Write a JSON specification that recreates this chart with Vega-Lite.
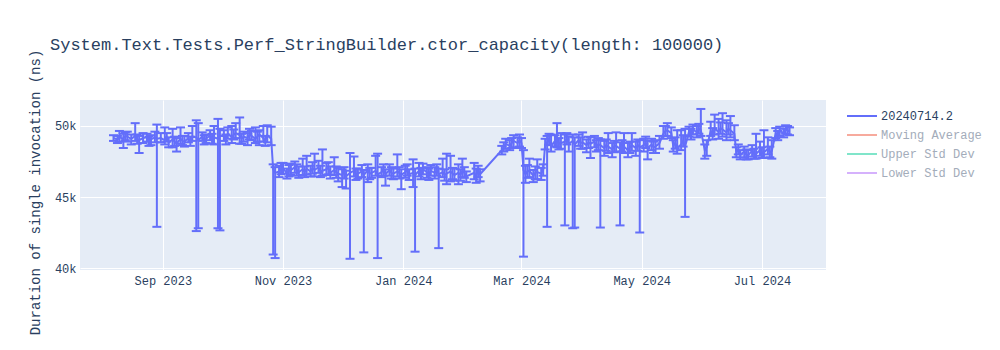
{
  "$schema": "https://vega.github.io/schema/vega-lite/v6.json",
  "width": 746,
  "height": 170,
  "autosize": "none",
  "padding": {"left": 80, "top": 100, "right": 174, "bottom": 80},
  "background": "white",
  "config": {
    "view": {"fill": "#e5ecf6", "stroke": null},
    "font": "Liberation Mono",
    "axis": {
      "domain": false, "ticks": false, "gridColor": "white", "gridWidth": 1, "gridOpacity": 1,
      "labelColor": "#2a3f5f", "labelFont": "Liberation Mono", "labelFontSize": 12,
      "titleColor": "#2a3f5f", "titleFont": "Liberation Mono", "titleFontSize": 14, "titleFontWeight": "normal"
    }
  },
  "title": {
    "text": "System.Text.Tests.Perf_StringBuilder.ctor_capacity(length: 100000)",
    "anchor": "start", "frame": "group", "dx": -30, "offset": -5,
    "font": "Liberation Mono", "fontSize": 17, "fontWeight": "normal", "color": "#2a3f5f"
  },
  "data": {"values": [
    {"d":"2023-08-07","v":49150,"lo":48950,"hi":49350},
    {"d":"2023-08-09","v":49050,"lo":48800,"hi":49300},
    {"d":"2023-08-10","v":49200,"lo":48900,"hi":49650},
    {"d":"2023-08-12","v":49100,"lo":48450,"hi":49450},
    {"d":"2023-08-13","v":49300,"lo":49000,"hi":49550},
    {"d":"2023-08-14","v":49250,"lo":48900,"hi":49600},
    {"d":"2023-08-16","v":49100,"lo":48700,"hi":49400},
    {"d":"2023-08-18","v":49300,"lo":48950,"hi":50200},
    {"d":"2023-08-19","v":49050,"lo":48750,"hi":49400},
    {"d":"2023-08-20","v":49000,"lo":48100,"hi":49300},
    {"d":"2023-08-22","v":49150,"lo":48800,"hi":49500},
    {"d":"2023-08-24","v":49200,"lo":48900,"hi":49450},
    {"d":"2023-08-25","v":48950,"lo":48600,"hi":49250},
    {"d":"2023-08-26","v":49050,"lo":48650,"hi":49350},
    {"d":"2023-08-28","v":49200,"lo":48850,"hi":49600},
    {"d":"2023-08-29","v":49100,"lo":42900,"hi":50100},
    {"d":"2023-08-31","v":49150,"lo":48850,"hi":49500},
    {"d":"2023-09-02","v":49000,"lo":48700,"hi":49900},
    {"d":"2023-09-03","v":49200,"lo":48900,"hi":49500},
    {"d":"2023-09-04","v":48850,"lo":48500,"hi":49200},
    {"d":"2023-09-06","v":49050,"lo":48500,"hi":49800},
    {"d":"2023-09-07","v":48900,"lo":48600,"hi":49250},
    {"d":"2023-09-08","v":48750,"lo":48200,"hi":49150},
    {"d":"2023-09-10","v":49100,"lo":48750,"hi":49900},
    {"d":"2023-09-11","v":48950,"lo":48650,"hi":49300},
    {"d":"2023-09-12","v":48900,"lo":48550,"hi":49300},
    {"d":"2023-09-14","v":49150,"lo":48850,"hi":49500},
    {"d":"2023-09-15","v":48900,"lo":48600,"hi":49250},
    {"d":"2023-09-16","v":49250,"lo":48950,"hi":50000},
    {"d":"2023-09-18","v":49200,"lo":42600,"hi":50400},
    {"d":"2023-09-19","v":49000,"lo":42800,"hi":50200},
    {"d":"2023-09-21","v":49250,"lo":48950,"hi":49550},
    {"d":"2023-09-22","v":49000,"lo":48700,"hi":49350},
    {"d":"2023-09-23","v":49100,"lo":48800,"hi":49400},
    {"d":"2023-09-25","v":49350,"lo":49000,"hi":49700},
    {"d":"2023-09-26","v":49100,"lo":48750,"hi":49450},
    {"d":"2023-09-27","v":49200,"lo":48700,"hi":50000},
    {"d":"2023-09-29","v":49100,"lo":42800,"hi":50500},
    {"d":"2023-09-30","v":49300,"lo":42650,"hi":49800},
    {"d":"2023-10-02","v":49300,"lo":48950,"hi":49700},
    {"d":"2023-10-03","v":49050,"lo":48700,"hi":49400},
    {"d":"2023-10-04","v":49450,"lo":49100,"hi":49900},
    {"d":"2023-10-06","v":49200,"lo":48800,"hi":50000},
    {"d":"2023-10-07","v":49400,"lo":49050,"hi":49750},
    {"d":"2023-10-08","v":49500,"lo":49150,"hi":50200},
    {"d":"2023-10-10","v":49350,"lo":48750,"hi":50600},
    {"d":"2023-10-11","v":49100,"lo":48750,"hi":49450},
    {"d":"2023-10-12","v":49250,"lo":48900,"hi":49600},
    {"d":"2023-10-14","v":49150,"lo":48650,"hi":49500},
    {"d":"2023-10-15","v":49400,"lo":49050,"hi":49800},
    {"d":"2023-10-16","v":49300,"lo":49000,"hi":49650},
    {"d":"2023-10-18","v":49100,"lo":48800,"hi":49900},
    {"d":"2023-10-19","v":49250,"lo":48900,"hi":49600},
    {"d":"2023-10-20","v":49400,"lo":48650,"hi":49700},
    {"d":"2023-10-22","v":49150,"lo":48900,"hi":50000},
    {"d":"2023-10-23","v":48950,"lo":48600,"hi":49300},
    {"d":"2023-10-24","v":49350,"lo":48850,"hi":50050},
    {"d":"2023-10-26","v":49100,"lo":48650,"hi":49950},
    {"d":"2023-10-27","v":46950,"lo":40950,"hi":47300},
    {"d":"2023-10-28","v":46700,"lo":40700,"hi":47100},
    {"d":"2023-10-30","v":46800,"lo":46400,"hi":47200},
    {"d":"2023-10-31","v":47000,"lo":46600,"hi":47400},
    {"d":"2023-11-01","v":47050,"lo":46650,"hi":47400},
    {"d":"2023-11-03","v":46650,"lo":46300,"hi":47000},
    {"d":"2023-11-04","v":46850,"lo":46450,"hi":47250},
    {"d":"2023-11-05","v":46900,"lo":46550,"hi":47350},
    {"d":"2023-11-07","v":47100,"lo":46700,"hi":47500},
    {"d":"2023-11-08","v":46900,"lo":46500,"hi":47300},
    {"d":"2023-11-09","v":46750,"lo":46350,"hi":47150},
    {"d":"2023-11-11","v":46950,"lo":46550,"hi":47700},
    {"d":"2023-11-12","v":46750,"lo":46400,"hi":47150},
    {"d":"2023-11-13","v":47000,"lo":46600,"hi":47900},
    {"d":"2023-11-15","v":46800,"lo":46450,"hi":47200},
    {"d":"2023-11-16","v":47050,"lo":46650,"hi":47450},
    {"d":"2023-11-17","v":46900,"lo":46450,"hi":48050},
    {"d":"2023-11-19","v":47100,"lo":46700,"hi":47550},
    {"d":"2023-11-20","v":46800,"lo":46400,"hi":47200},
    {"d":"2023-11-21","v":46850,"lo":46500,"hi":48350},
    {"d":"2023-11-23","v":46950,"lo":46550,"hi":47400},
    {"d":"2023-11-24","v":47050,"lo":46600,"hi":47450},
    {"d":"2023-11-25","v":46700,"lo":46300,"hi":47150},
    {"d":"2023-11-27","v":46900,"lo":46550,"hi":47800},
    {"d":"2023-11-28","v":46750,"lo":46350,"hi":47150},
    {"d":"2023-11-29","v":46650,"lo":46100,"hi":47050},
    {"d":"2023-12-01","v":46550,"lo":45700,"hi":46950},
    {"d":"2023-12-02","v":46750,"lo":46300,"hi":47100},
    {"d":"2023-12-03","v":46450,"lo":45600,"hi":46850},
    {"d":"2023-12-05","v":46700,"lo":40650,"hi":48100},
    {"d":"2023-12-07","v":46850,"lo":46450,"hi":47850},
    {"d":"2023-12-08","v":46600,"lo":46200,"hi":47000},
    {"d":"2023-12-09","v":46650,"lo":46300,"hi":47000},
    {"d":"2023-12-11","v":46800,"lo":46400,"hi":47250},
    {"d":"2023-12-12","v":46550,"lo":41100,"hi":46900},
    {"d":"2023-12-14","v":46900,"lo":46050,"hi":47300},
    {"d":"2023-12-15","v":46650,"lo":46250,"hi":47050},
    {"d":"2023-12-16","v":46700,"lo":46350,"hi":47050},
    {"d":"2023-12-18","v":46850,"lo":46500,"hi":47900},
    {"d":"2023-12-19","v":46600,"lo":40700,"hi":48050},
    {"d":"2023-12-21","v":46750,"lo":46400,"hi":47100},
    {"d":"2023-12-22","v":46900,"lo":46500,"hi":47300},
    {"d":"2023-12-23","v":46600,"lo":45800,"hi":46950},
    {"d":"2023-12-25","v":46900,"lo":46500,"hi":47300},
    {"d":"2023-12-26","v":46700,"lo":46300,"hi":47100},
    {"d":"2023-12-27","v":46650,"lo":46250,"hi":47000},
    {"d":"2023-12-29","v":46800,"lo":46450,"hi":48000},
    {"d":"2023-12-30","v":46700,"lo":46300,"hi":47100},
    {"d":"2023-12-31","v":46550,"lo":45550,"hi":46950},
    {"d":"2024-01-02","v":46750,"lo":46350,"hi":47200},
    {"d":"2024-01-03","v":46900,"lo":46500,"hi":47300},
    {"d":"2024-01-04","v":46600,"lo":46200,"hi":46950},
    {"d":"2024-01-06","v":46700,"lo":45700,"hi":47650},
    {"d":"2024-01-07","v":46550,"lo":41150,"hi":47000},
    {"d":"2024-01-09","v":46850,"lo":46450,"hi":47400},
    {"d":"2024-01-10","v":46650,"lo":46250,"hi":47050},
    {"d":"2024-01-11","v":46950,"lo":46600,"hi":47350},
    {"d":"2024-01-13","v":46750,"lo":46350,"hi":47100},
    {"d":"2024-01-14","v":46600,"lo":46200,"hi":47000},
    {"d":"2024-01-15","v":46850,"lo":46500,"hi":47250},
    {"d":"2024-01-17","v":46700,"lo":46300,"hi":47100},
    {"d":"2024-01-18","v":46900,"lo":46500,"hi":47300},
    {"d":"2024-01-19","v":46600,"lo":41400,"hi":47000},
    {"d":"2024-01-21","v":46750,"lo":46400,"hi":47700},
    {"d":"2024-01-22","v":46550,"lo":46150,"hi":46950},
    {"d":"2024-01-23","v":46650,"lo":45900,"hi":48050},
    {"d":"2024-01-25","v":46800,"lo":46100,"hi":47900},
    {"d":"2024-01-26","v":46650,"lo":46250,"hi":47050},
    {"d":"2024-01-27","v":46550,"lo":46150,"hi":47000},
    {"d":"2024-01-29","v":46700,"lo":45900,"hi":47300},
    {"d":"2024-01-30","v":46550,"lo":46150,"hi":46950},
    {"d":"2024-01-31","v":46850,"lo":46400,"hi":47700},
    {"d":"2024-02-01","v":46700,"lo":46350,"hi":47100},
    {"d":"2024-02-02","v":46450,"lo":46050,"hi":46800},
    {"d":"2024-02-06","v":46700,"lo":46250,"hi":47400},
    {"d":"2024-02-07","v":46500,"lo":46000,"hi":47000},
    {"d":"2024-02-08","v":46850,"lo":46400,"hi":47200},
    {"d":"2024-02-09","v":46600,"lo":46100,"hi":46950},
    {"d":"2024-02-20","v":48300,"lo":48000,"hi":48600},
    {"d":"2024-02-21","v":48500,"lo":48200,"hi":48850},
    {"d":"2024-02-22","v":48750,"lo":48400,"hi":49100},
    {"d":"2024-02-24","v":48600,"lo":48300,"hi":49000},
    {"d":"2024-02-25","v":48800,"lo":48450,"hi":49150},
    {"d":"2024-02-26","v":48950,"lo":48500,"hi":49350},
    {"d":"2024-02-28","v":48800,"lo":48450,"hi":49200},
    {"d":"2024-02-29","v":49000,"lo":48550,"hi":49400},
    {"d":"2024-03-01","v":48800,"lo":48450,"hi":49150},
    {"d":"2024-03-02","v":46900,"lo":40800,"hi":48300},
    {"d":"2024-03-03","v":46600,"lo":46000,"hi":47200},
    {"d":"2024-03-04","v":46800,"lo":46350,"hi":47250},
    {"d":"2024-03-05","v":46850,"lo":46400,"hi":47700},
    {"d":"2024-03-07","v":46500,"lo":46050,"hi":46900},
    {"d":"2024-03-08","v":46700,"lo":46250,"hi":47150},
    {"d":"2024-03-09","v":46750,"lo":46250,"hi":47650},
    {"d":"2024-03-11","v":46650,"lo":46200,"hi":47050},
    {"d":"2024-03-12","v":46900,"lo":46500,"hi":47300},
    {"d":"2024-03-13","v":48700,"lo":48350,"hi":49100},
    {"d":"2024-03-14","v":48850,"lo":42900,"hi":49300},
    {"d":"2024-03-15","v":49050,"lo":48650,"hi":49450},
    {"d":"2024-03-16","v":48600,"lo":48200,"hi":49400},
    {"d":"2024-03-18","v":48950,"lo":48550,"hi":49350},
    {"d":"2024-03-19","v":49050,"lo":48500,"hi":50200},
    {"d":"2024-03-20","v":48750,"lo":48350,"hi":49150},
    {"d":"2024-03-21","v":48800,"lo":48400,"hi":49500},
    {"d":"2024-03-23","v":48900,"lo":43000,"hi":49400},
    {"d":"2024-03-24","v":49100,"lo":48700,"hi":49500},
    {"d":"2024-03-25","v":48750,"lo":48200,"hi":49250},
    {"d":"2024-03-27","v":48950,"lo":42800,"hi":49400},
    {"d":"2024-03-28","v":48700,"lo":42850,"hi":49200},
    {"d":"2024-03-30","v":49000,"lo":48600,"hi":49400},
    {"d":"2024-03-31","v":48800,"lo":48400,"hi":49200},
    {"d":"2024-04-01","v":48850,"lo":48400,"hi":49550},
    {"d":"2024-04-03","v":48650,"lo":48150,"hi":49050},
    {"d":"2024-04-04","v":48850,"lo":48450,"hi":49250},
    {"d":"2024-04-05","v":48750,"lo":47750,"hi":49200},
    {"d":"2024-04-07","v":48900,"lo":48500,"hi":49300},
    {"d":"2024-04-08","v":48600,"lo":48200,"hi":49000},
    {"d":"2024-04-09","v":48700,"lo":48300,"hi":49150},
    {"d":"2024-04-10","v":48650,"lo":42850,"hi":49050},
    {"d":"2024-04-12","v":48450,"lo":47900,"hi":48950},
    {"d":"2024-04-13","v":48650,"lo":48250,"hi":49050},
    {"d":"2024-04-14","v":48550,"lo":48100,"hi":49500},
    {"d":"2024-04-16","v":48350,"lo":47800,"hi":48800},
    {"d":"2024-04-17","v":48550,"lo":48150,"hi":48950},
    {"d":"2024-04-18","v":48600,"lo":48200,"hi":49550},
    {"d":"2024-04-20","v":48400,"lo":43000,"hi":48850},
    {"d":"2024-04-21","v":48600,"lo":48200,"hi":49000},
    {"d":"2024-04-22","v":48550,"lo":48100,"hi":49500},
    {"d":"2024-04-24","v":48300,"lo":47800,"hi":48800},
    {"d":"2024-04-25","v":48500,"lo":48100,"hi":48900},
    {"d":"2024-04-26","v":48650,"lo":48250,"hi":49500},
    {"d":"2024-04-28","v":48450,"lo":47900,"hi":48900},
    {"d":"2024-04-29","v":48650,"lo":48250,"hi":49050},
    {"d":"2024-04-30","v":48500,"lo":42500,"hi":49000},
    {"d":"2024-05-02","v":48650,"lo":48200,"hi":49100},
    {"d":"2024-05-03","v":48850,"lo":48450,"hi":49250},
    {"d":"2024-05-04","v":48450,"lo":47650,"hi":48950},
    {"d":"2024-05-06","v":48700,"lo":48300,"hi":49100},
    {"d":"2024-05-07","v":48500,"lo":48100,"hi":48900},
    {"d":"2024-05-08","v":48550,"lo":48100,"hi":49000},
    {"d":"2024-05-10","v":48800,"lo":48400,"hi":49300},
    {"d":"2024-05-12","v":49450,"lo":49100,"hi":50000},
    {"d":"2024-05-13","v":49650,"lo":49300,"hi":50000},
    {"d":"2024-05-14","v":49700,"lo":49300,"hi":50200},
    {"d":"2024-05-16","v":49500,"lo":49150,"hi":49900},
    {"d":"2024-05-17","v":48600,"lo":48200,"hi":49000},
    {"d":"2024-05-18","v":48800,"lo":48400,"hi":49200},
    {"d":"2024-05-19","v":48450,"lo":48050,"hi":49700},
    {"d":"2024-05-21","v":48700,"lo":48300,"hi":49700},
    {"d":"2024-05-22","v":48950,"lo":48550,"hi":49350},
    {"d":"2024-05-23","v":48550,"lo":43600,"hi":49800},
    {"d":"2024-05-25","v":49600,"lo":49250,"hi":49950},
    {"d":"2024-05-26","v":49400,"lo":49050,"hi":49800},
    {"d":"2024-05-27","v":49750,"lo":49400,"hi":50100},
    {"d":"2024-05-29","v":49550,"lo":49200,"hi":50000},
    {"d":"2024-05-30","v":49800,"lo":49450,"hi":50150},
    {"d":"2024-05-31","v":49700,"lo":49300,"hi":51200},
    {"d":"2024-06-02","v":48300,"lo":47700,"hi":48700},
    {"d":"2024-06-03","v":48500,"lo":47900,"hi":49000},
    {"d":"2024-06-05","v":49650,"lo":49300,"hi":50300},
    {"d":"2024-06-06","v":49450,"lo":49050,"hi":49850},
    {"d":"2024-06-07","v":49800,"lo":49400,"hi":50800},
    {"d":"2024-06-09","v":49600,"lo":49100,"hi":50500},
    {"d":"2024-06-10","v":49850,"lo":49450,"hi":50250},
    {"d":"2024-06-11","v":49750,"lo":49250,"hi":50900},
    {"d":"2024-06-13","v":49550,"lo":49000,"hi":50400},
    {"d":"2024-06-14","v":49800,"lo":49400,"hi":50200},
    {"d":"2024-06-15","v":49700,"lo":49200,"hi":50700},
    {"d":"2024-06-17","v":49450,"lo":49000,"hi":50050},
    {"d":"2024-06-18","v":48150,"lo":47800,"hi":48500},
    {"d":"2024-06-19","v":48350,"lo":48000,"hi":48700},
    {"d":"2024-06-20","v":47950,"lo":47650,"hi":48300},
    {"d":"2024-06-22","v":48200,"lo":47800,"hi":48550},
    {"d":"2024-06-23","v":48000,"lo":47650,"hi":48350},
    {"d":"2024-06-24","v":47950,"lo":47650,"hi":48300},
    {"d":"2024-06-26","v":48250,"lo":47850,"hi":48650},
    {"d":"2024-06-27","v":48050,"lo":47700,"hi":48400},
    {"d":"2024-06-28","v":48050,"lo":47700,"hi":49450},
    {"d":"2024-06-30","v":48300,"lo":47900,"hi":48900},
    {"d":"2024-07-01","v":48100,"lo":47750,"hi":48500},
    {"d":"2024-07-02","v":48150,"lo":47750,"hi":49700},
    {"d":"2024-07-04","v":48400,"lo":48000,"hi":49200},
    {"d":"2024-07-05","v":48150,"lo":47800,"hi":48550},
    {"d":"2024-07-06","v":48250,"lo":47700,"hi":49000},
    {"d":"2024-07-08","v":49500,"lo":49150,"hi":49850},
    {"d":"2024-07-09","v":49300,"lo":49000,"hi":49650},
    {"d":"2024-07-10","v":49650,"lo":49300,"hi":49950},
    {"d":"2024-07-12","v":49500,"lo":49200,"hi":49800},
    {"d":"2024-07-13","v":49750,"lo":49450,"hi":50050},
    {"d":"2024-07-14","v":49700,"lo":49400,"hi":50000},
    {"d":"2024-07-15","v":49600,"lo":49350,"hi":49900}
  ]},
  "encoding": {
    "x": {
      "field": "d", "type": "temporal", "title": null,
      "scale": {"type": "utc", "domain": [{"year": 2023, "month": 7, "date": 21, "utc": true}, {"year": 2024, "month": 8, "date": 2, "hours": 12, "utc": true}]},
      "axis": {
        "format": "%b %Y", "labelPadding": 5,
        "values": [
          {"year": 2023, "month": 9, "date": 1, "utc": true},
          {"year": 2023, "month": 11, "date": 1, "utc": true},
          {"year": 2024, "month": 1, "date": 1, "utc": true},
          {"year": 2024, "month": 3, "date": 1, "utc": true},
          {"year": 2024, "month": 5, "date": 1, "utc": true},
          {"year": 2024, "month": 7, "date": 1, "utc": true}
        ]
      }
    }
  },
  "layer": [
    {
      "mark": {"type": "rule", "color": "#636efa", "strokeWidth": 2},
      "encoding": {
        "y": {"field": "lo", "type": "quantitative", "title": "Duration of single invocation (ns)",
          "scale": {"domain": [39860, 51830], "nice": false, "zero": false},
          "axis": {"values": [40000, 45000, 50000], "format": "~s", "labelPadding": 4, "titleX": -45, "titleY": 92, "titleAngle": -90, "titleBaseline": "middle", "titleAlign": "center"}},
        "y2": {"field": "hi"}
      }
    },
    {
      "mark": {"type": "tick", "orient": "horizontal", "color": "#636efa", "size": 9, "thickness": 2, "opacity": 1},
      "encoding": {"y": {"field": "lo", "type": "quantitative", "title": "Duration of single invocation (ns)"}}
    },
    {
      "mark": {"type": "tick", "orient": "horizontal", "color": "#636efa", "size": 9, "thickness": 2, "opacity": 1},
      "encoding": {"y": {"field": "hi", "type": "quantitative", "title": "Duration of single invocation (ns)"}}
    },
    {
      "mark": {"type": "line", "strokeWidth": 2},
      "encoding": {
        "y": {"field": "v", "type": "quantitative", "title": "Duration of single invocation (ns)"},
        "color": {
          "datum": "20240714.2", "type": "nominal",
          "scale": {"domain": ["20240714.2", "Moving Average", "Upper Std Dev", "Lower Std Dev"], "range": ["#636efa", "#f7aa9d", "#80e5ca", "#d5b1fc"]},
          "legend": {
            "title": null, "orient": "none", "legendX": 776, "legendY": 10, "padding": 0,
            "symbolType": "M-3,0H3", "symbolSize": 100, "symbolStrokeWidth": 2,
            "labelOffset": 13, "rowPadding": 7,
            "labelFont": "Liberation Mono", "labelFontSize": 12,
            "labelColor": {"expr": "datum.label === '20240714.2' ? '#2a3f5f' : '#a3acba'"}
          }
        }
      }
    }
  ]
}
